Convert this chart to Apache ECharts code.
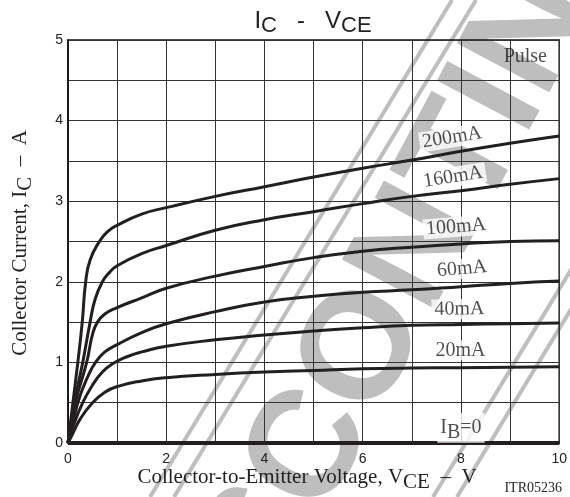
<!DOCTYPE html>
<html><head><meta charset="utf-8">
<script src="https://cdn.jsdelivr.net/npm/echarts@6/dist/echarts.min.js"></script>
<style>html,body{margin:0;padding:0;background:#fff}#c{width:570px;height:497px}</style>
</head><body><div id="c"></div>
<script>
// ---- data ----
const xTicks = [0, 2, 4, 6, 8, 10];
const yTicks = [0, 1, 2, 3, 4, 5];

const ib200V = [0, 0.1, 0.2, 0.29, 0.36, 0.45, 0.64, 0.8, 1, 1.5, 2, 3, 4, 5, 6, 7, 8, 9, 10];
const ib200I = [0, 0.5, 1.0, 1.5, 2.0, 2.27, 2.5, 2.62, 2.7, 2.84, 2.92, 3.06, 3.18, 3.3, 3.41, 3.51, 3.62, 3.72, 3.81];

const ib160V = [0, 0.13, 0.3, 0.45, 0.55, 0.7, 0.85, 1, 1.5, 2, 3, 4, 5, 6, 7, 8, 9, 10];
const ib160I = [0, 0.5, 1.0, 1.5, 1.78, 2.0, 2.12, 2.2, 2.35, 2.45, 2.64, 2.77, 2.87, 2.97, 3.06, 3.13, 3.21, 3.28];

const ib100V = [0, 0.15, 0.38, 0.5, 0.6, 0.75, 1, 1.5, 2, 3, 4, 5, 6, 7, 8, 9, 10];
const ib100I = [0, 0.5, 1.0, 1.35, 1.5, 1.6, 1.68, 1.8, 1.92, 2.07, 2.19, 2.3, 2.38, 2.43, 2.47, 2.5, 2.51];

const ib60V = [0, 0.2, 0.4, 0.56, 0.75, 1, 1.5, 2, 3, 4, 5, 6, 7, 8, 9, 10];
const ib60I = [0, 0.5, 0.82, 1.0, 1.13, 1.22, 1.37, 1.48, 1.63, 1.75, 1.82, 1.87, 1.9, 1.94, 1.98, 2.01];

const ib40V = [0, 0.1, 0.3, 0.5, 0.7, 0.9, 1.2, 1.5, 2, 3, 4, 5, 6, 7, 8, 9, 10];
const ib40I = [0, 0.2, 0.5, 0.72, 0.88, 0.98, 1.07, 1.13, 1.2, 1.28, 1.34, 1.39, 1.43, 1.46, 1.47, 1.48, 1.49];

const ib20V = [0, 0.1, 0.25, 0.5, 0.75, 1, 1.5, 2, 3, 4, 5, 6, 7, 8, 9, 10];
const ib20I = [0, 0.12, 0.3, 0.5, 0.63, 0.7, 0.77, 0.81, 0.85, 0.88, 0.9, 0.92, 0.93, 0.935, 0.94, 0.945];

const ib0V = [0, 10];
const ib0I = [0, 0];

const curveNames = ['200mA', '160mA', '100mA', '60mA', '40mA', '20mA', 'IB=0'];

// curve labels
const labelText = ['200mA', '160mA', '100mA', '60mA', '40mA', '20mA', '{n|I}{s|B}{n|=0}', 'Pulse'];
const labelV = [7.82, 7.84, 7.9, 8.02, 7.97, 7.99, 8.0, 9.31];
const labelI = [3.79, 3.30, 2.68, 2.16, 1.66, 1.15, 0.19, 4.79];
const labelRot = [9, 9, 4.5, 5, 0.5, 0, 0, 0];

// ---- build ----
const zip = (a, b) => a.map((v, i) => [v, b[i]]);
const curves = [
  zip(ib200V, ib200I), zip(ib160V, ib160I), zip(ib100V, ib100I),
  zip(ib60V, ib60I), zip(ib40V, ib40I), zip(ib20V, ib20I), zip(ib0V, ib0I)
];

const serif = '"Liberation Serif", "Times New Roman", serif';
const sans = '"Liberation Sans", Arial, sans-serif';
const ink = '#231f20';
const wm = '#bebebe';

const chart = echarts.init(document.getElementById('c'), null, { renderer: 'canvas' });

const series = curves.map((d, i) => ({
  name: curveNames[i],
  type: 'line',
  data: d,
  showSymbol: false,
  symbol: 'none',
  smooth: i === 6 ? false : 0.5,
  lineStyle: { color: ink, width: i === 6 ? 4 : 3 },
  z: 3,
  silent: true
}));

series.push({
  name: 'labels',
  type: 'scatter',
  symbolSize: 0,
  silent: true,
  z: 5,
  data: labelV.map((v, i) => ({
    value: [v, labelI[i]],
    label: {
      show: true,
      position: 'inside',
      formatter: labelText[i],
      rotate: labelRot[i],
      fontFamily: serif,
      fontSize: 20,
      color: ink,
      backgroundColor: i === 7 ? 'transparent' : '#fff',
      padding: [0, 3, 0, 3],
      rich: {
        n: { fontFamily: serif, fontSize: 20, color: ink },
        s: { fontFamily: serif, fontSize: 20, color: ink, padding: [10, 0, 0, 0] }
      }
    }
  }))
});

const wmLine = (x1, y1, x2, y2) => ({
  type: 'line', z: -10, silent: true,
  shape: { x1: x1, y1: y1, x2: x2, y2: y2 },
  style: { stroke: wm, lineWidth: 4 }
});

const option = {
  backgroundColor: '#fff',
  animation: false,
  grid: { left: 68, right: 10, top: 40, bottom: 54, show: true, borderColor: '#111', borderWidth: 1.5, backgroundColor: 'transparent' },
  xAxis: {
    type: 'value', min: 0, max: 10, interval: 1,
    axisLine: { show: true, lineStyle: { color: '#111', width: 1.5 } },
    axisTick: { show: false },
    splitLine: { show: true, lineStyle: { color: '#333', width: 1 } },
    axisLabel: {
      margin: 9, fontFamily: sans, fontSize: 14, color: '#222',
      formatter: v => (xTicks.indexOf(v) >= 0 ? String(v) : '')
    }
  },
  yAxis: {
    type: 'value', min: 0, max: 5, interval: 0.5,
    axisLine: { show: true, lineStyle: { color: '#111', width: 1.5 } },
    axisTick: { show: false },
    splitLine: { show: true, lineStyle: { color: '#333', width: 1 } },
    axisLabel: {
      margin: 5, fontFamily: sans, fontSize: 14, color: '#222',
      formatter: v => (yTicks.indexOf(v) >= 0 ? String(v) : '')
    }
  },
  graphic: [
    {
      type: 'text', z: -10, silent: true,
      x: 438, y: 212, rotation: 62 * Math.PI / 180,
      style: {
        text: 'DISCONTINUED', fill: wm,
        font: 'bold 152px "Liberation Sans", Arial, sans-serif',
        textAlign: 'center', textVerticalAlign: 'middle'
      }
    },
    wmLine(150, 497, 452, 0),
    wmLine(174, 497, 476, 0),
    wmLine(433, 497, 580, 255),
    wmLine(457, 497, 590, 278),
    {
      type: 'text', silent: true, x: 313, y: 21,
      style: {
        text: '{a|I}{b|C}{a|   -   V}{b|CE}',
        textAlign: 'center', textVerticalAlign: 'middle',
        rich: {
          a: { fontFamily: sans, fontSize: 24, fill: ink, color: ink },
          b: { fontFamily: sans, fontSize: 22, fill: ink, color: ink, padding: [9, 0, 0, 0] }
        }
      }
    },
    {
      type: 'text', silent: true, x: 307, y: 477,
      style: {
        text: '{a|Collector-to-Emitter Voltage, V}{b|CE}{a|  –  V}',
        textAlign: 'center', textVerticalAlign: 'middle',
        rich: {
          a: { fontFamily: serif, fontSize: 21, fill: ink, color: ink },
          b: { fontFamily: serif, fontSize: 21, fill: ink, color: ink, padding: [10, 0, 0, 0] }
        }
      }
    },
    {
      type: 'text', silent: true, x: 562, y: 488,
      style: {
        text: 'ITR05236', fill: ink, font: '14px "Liberation Serif", "Times New Roman", serif',
        textAlign: 'right', textVerticalAlign: 'middle'
      }
    },
    {
      type: 'text', silent: true, x: 20, y: 243, rotation: Math.PI / 2,
      style: {
        text: '{a|Collector Current, I}{b|C}{a|  –  A}',
        textAlign: 'center', textVerticalAlign: 'middle',
        rich: {
          a: { fontFamily: serif, fontSize: 21, fill: ink, color: ink },
          b: { fontFamily: serif, fontSize: 21, fill: ink, color: ink, padding: [10, 0, 0, 0] }
        }
      }
    }
  ],
  series: series
};
chart.setOption(option);
</script>
</body></html>
